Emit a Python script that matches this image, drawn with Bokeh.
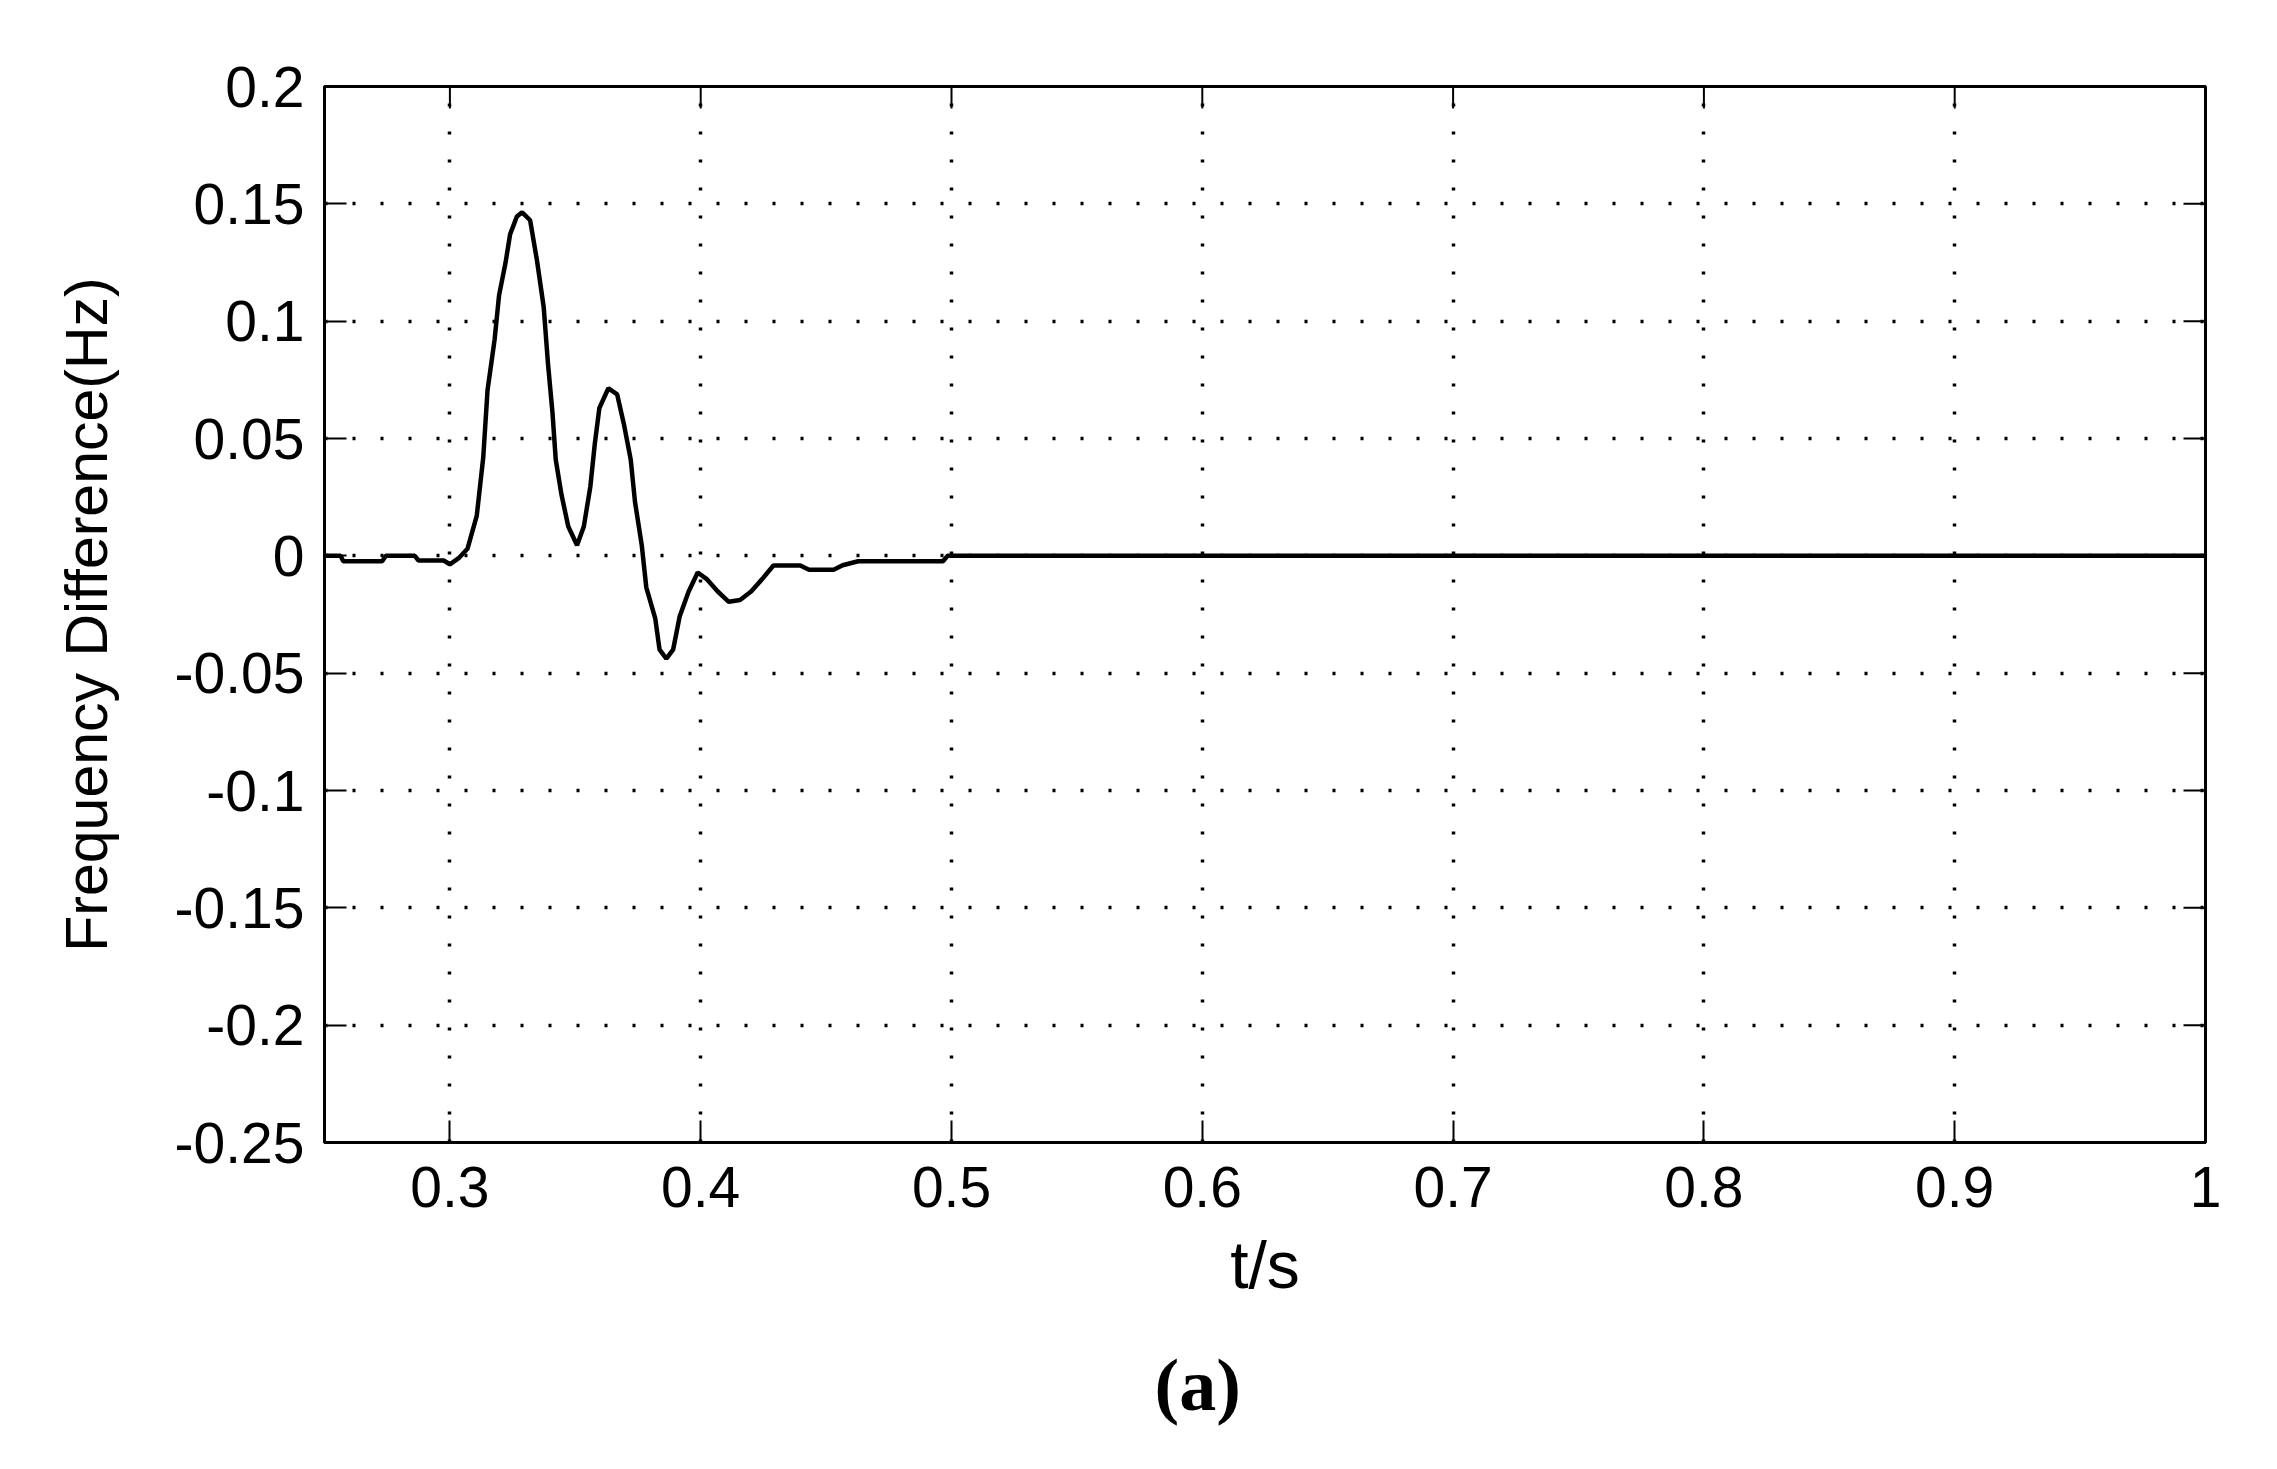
from bokeh.plotting import figure
from bokeh.models import FixedTicker, Range1d, Title
from bokeh.embed import file_html
from bokeh.resources import INLINE

# time (s) and frequency difference (Hz)
t = [0.25, 0.2564, 0.2575, 0.273, 0.2745, 0.286, 0.2875, 0.2975, 0.300, 0.3035, 0.307,
     0.3107, 0.3133, 0.315, 0.3178, 0.3196, 0.3222, 0.324, 0.3267, 0.3288, 0.332,
     0.3347, 0.3374, 0.3391, 0.3409, 0.3422, 0.3445, 0.3472, 0.3507, 0.3534, 0.356,
     0.3578, 0.3596, 0.3632, 0.3667, 0.3694, 0.3721, 0.3738, 0.3765, 0.3783, 0.3819,
     0.3836, 0.3863, 0.389, 0.3916, 0.3952, 0.3988, 0.4023, 0.4068, 0.4112, 0.4157,
     0.4201, 0.4246, 0.429, 0.4397, 0.4432, 0.453, 0.4566, 0.4628, 0.4966, 0.4984, 1.0]
df = [0.0, 0.0, -0.0023, -0.0023, 0.0, 0.0, -0.002, -0.002, -0.0036, -0.001, 0.003,
      0.017, 0.042, 0.0705, 0.092, 0.111, 0.125, 0.137, 0.1446, 0.1464, 0.143,
      0.126, 0.106, 0.082, 0.061, 0.041, 0.026, 0.0125, 0.0045, 0.0125, 0.0295,
      0.048, 0.063, 0.0714, 0.0688, 0.056, 0.041, 0.023, 0.0045, -0.0134, -0.0268,
      -0.040, -0.0438, -0.040, -0.0259, -0.0152, -0.0071, -0.0098, -0.0152, -0.0196, -0.0188,
      -0.0152, -0.0098, -0.0041, -0.0041, -0.0059, -0.0059, -0.004, -0.0023, -0.0023, 0.0, 0.0]

x_ticks = [0.3, 0.4, 0.5, 0.6, 0.7, 0.8, 0.9, 1.0]
x_tick_labels = ["0.3", "0.4", "0.5", "0.6", "0.7", "0.8", "0.9", "1"]
y_ticks = [-0.25, -0.2, -0.15, -0.1, -0.05, 0.0, 0.05, 0.1, 0.15, 0.2]
y_tick_labels = ["-0.25", "-0.2", "-0.15", "-0.1", "-0.05", "0", "0.05", "0.1", "0.15", "0.2"]

X0, X1 = 0.25, 1.0
Y0, Y1 = -0.25, 0.2
FW, FH = 1881, 1056
TICK = 22
FONT = "Liberation Sans"

p = figure(frame_width=FW, frame_height=FH,
           min_border_left=324, min_border_top=86, min_border_right=55, min_border_bottom=300,
           x_range=Range1d(X0, X1), y_range=Range1d(Y0, Y1),
           output_backend="svg", toolbar_location=None,
           x_axis_label="t/s", y_axis_label="Frequency Difference(Hz)")

p.background_fill_color = "white"
p.border_fill_color = "white"
p.outline_line_color = "black"
p.outline_line_width = 3

for ax in p.xaxis:
    ax.ticker = FixedTicker(ticks=x_ticks)
    ax.major_label_overrides = dict(zip(x_ticks, x_tick_labels))
    ax.major_label_text_font_size = "57px"
    ax.major_label_standoff = 24
    ax.axis_label_text_font_size = "66px"
    ax.axis_label_standoff = 18
for ax in p.yaxis:
    ax.ticker = FixedTicker(ticks=y_ticks)
    ax.major_label_overrides = dict(zip(y_ticks, y_tick_labels))
    ax.major_label_text_font_size = "57px"
    ax.major_label_standoff = 20
    ax.axis_label_text_font_size = "59px"
    ax.axis_label_standoff = 52

for ax in list(p.xaxis) + list(p.yaxis):
    ax.axis_line_color = "black"
    ax.axis_line_width = 3
    ax.major_tick_in = TICK
    ax.major_tick_out = 0
    ax.major_tick_line_width = 2
    ax.minor_tick_line_color = None
    ax.major_label_text_font = FONT
    ax.major_label_text_color = "black"
    ax.axis_label_text_font = FONT
    ax.axis_label_text_font_style = "normal"
    ax.axis_label_text_color = "black"

for g in (p.xgrid, p.ygrid):
    g.grid_line_color = "black"
    g.grid_line_width = 3.5
    g.grid_line_dash = "3 25"
p.xgrid.ticker = FixedTicker(ticks=x_ticks)
p.ygrid.ticker = FixedTicker(ticks=y_ticks)

# mirrored inward ticks on the top and right edges (MATLAB style)
dy = (Y1 - Y0) * TICK / FH
dx = (X1 - X0) * TICK / FW
p.segment(x0=x_ticks, y0=[Y1] * len(x_ticks), x1=x_ticks, y1=[Y1 - dy] * len(x_ticks),
          line_color="black", line_width=2)
p.segment(x0=[X1] * len(y_ticks), y0=y_ticks, x1=[X1 - dx] * len(y_ticks), y1=y_ticks,
          line_color="black", line_width=2)

p.line(t, df, line_color="black", line_width=4.5)

cap = Title(text="(a)", align="left", offset=830, standoff=74,
            text_font="Liberation Serif", text_font_size="74px",
            text_font_style="bold", text_color="black")
p.add_layout(cap, "below")

open("out.html", "w").write(file_html(p, INLINE))
